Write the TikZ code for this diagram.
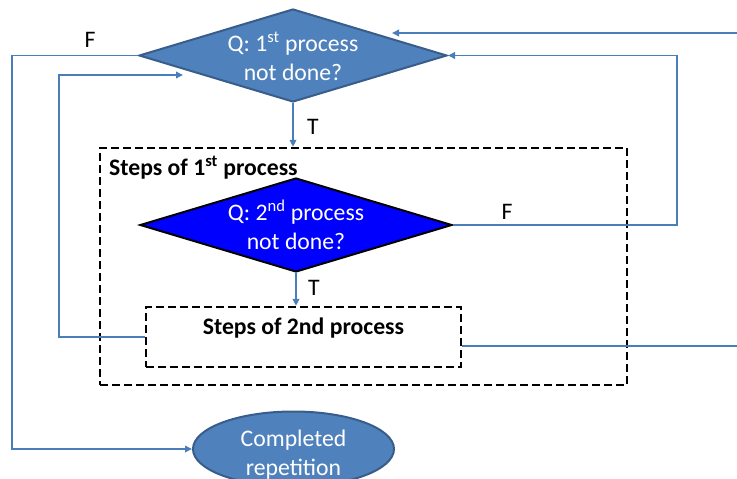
\documentclass[tikz,border=0pt]{standalone}
\usepackage{fontspec}
\setmainfont{Carlito}
\usetikzlibrary{arrows.meta, positioning, calc, shapes.geometric}
\definecolor{flowfill}{HTML}{4F81BD}
\definecolor{flowedge}{HTML}{385D8A}
\definecolor{flowline}{HTML}{4A7EBB}
\definecolor{innerq}{HTML}{0000FF}
\newcommand{\flowfont}{\fontsize{23.7}{28.8}\selectfont}

\begin{document}
\begin{tikzpicture}[x=1pt, y=-1pt, font=\flowfont,
    qbox/.style={diamond, aspect=3.3, inner sep=0pt, align=center,
                 text=white, text height=49pt, text depth=0pt, line width=2pt},
    stepsbox/.style={draw=black, line width=2.3pt, dash pattern=on 8pt off 4pt,
                     inner sep=0pt},
    link/.style={draw=flowline, line width=1.9pt},
    linkarr/.style={link, -{Triangle[length=7pt, width=6.5pt]}},
    tag/.style={inner sep=0pt, text=black}]
  \useasboundingbox (0,0) rectangle (737,479);
  \clip (0,0) rectangle (737,479);
  % questions
  \node[qbox, fill=flowfill, draw=flowedge, minimum width=308pt, minimum height=93pt]
    (q1) at (293,55.5) {Q: 1\textsuperscript{st} process\\not done?};
  \node[qbox, fill=innerq, draw=black, minimum width=312pt, minimum height=94pt]
    (q2) at (296,225) {Q: 2\textsuperscript{nd} process\\not done?};
  % process boxes
  \node[stepsbox, minimum width=527pt, minimum height=237pt] (p1) at (363.5,266.5) {};
  \node[tag, anchor=west, font=\flowfont\bfseries] (p1t) at (109,168)
    {Steps of 1\textsuperscript{st} process};
  \node[stepsbox, minimum width=315pt, minimum height=60pt] (p2) at (303.5,337) {};
  \node[tag, font=\flowfont\bfseries] (p2t) at (303.5,328) {Steps of 2nd process};
  \node[ellipse, fill=flowfill, draw=flowedge, line width=2pt, inner sep=0pt,
        minimum width=201pt, minimum height=75pt, align=center, text=white,
        text height=52pt, text depth=0pt] (done) at (293.5,449) {Completed\\repetition};
  % corners and free ends
  \coordinate (leftrail) at (59,75);
  \coordinate (backin) at (183,75);
  \coordinate (outrail) at (12,55.5);
  \coordinate (rightrail) at (677,225);
  \coordinate (edgeout) at (737,346);
  \coordinate (edgein) at (737,33);
  \coordinate (topin) at (392,33);
  % connectors
  \draw[linkarr] (q1.south) -- (q1.south |- p1.north);
  \draw[linkarr] (q2.south) -- (q2.south |- p2.north);
  \draw[linkarr] (p2.west) -| (leftrail) -- (backin);
  \draw[linkarr] (q1.west) -- (outrail) |- (done.west);
  \draw[linkarr] (q2.east) -- (rightrail) |- (q1.east);
  \draw[link] ([yshift=-9pt]p2.east) -- (edgeout);
  \draw[linkarr] (edgein) -- (topin);
  % labels
  \node[tag] (f1) at (90,40) {F};
  \node[tag] (t1) at (313,127) {T};
  \node[tag] (f2) at (507,212) {F};
  \node[tag] (t2) at (314,288) {T};
\end{tikzpicture}
\end{document}
